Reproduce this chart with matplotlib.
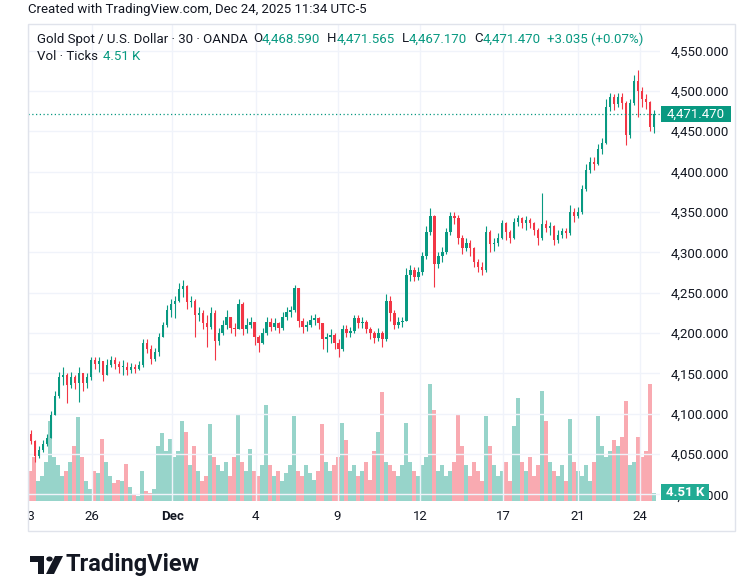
import numpy as np
import matplotlib
matplotlib.use('Agg')
import matplotlib.pyplot as plt
from matplotlib.patches import Rectangle, Polygon, Circle
from matplotlib.ticker import FuncFormatter
from matplotlib.transforms import Bbox

# 157 bars (left to right), prices in USD
closes = [4066, 4048, 4055, 4062, 4070, 4098, 4122, 4145, 4148, 4135,
          4145, 4138, 4150, 4138, 4145, 4166, 4162, 4165, 4148, 4160,
          4166, 4162, 4158, 4158, 4154, 4158, 4156, 4160, 4188, 4180,
          4168, 4176, 4195, 4210, 4228, 4236, 4240, 4255, 4258, 4238,
          4240, 4222, 4225, 4212, 4208, 4225, 4190, 4200, 4210, 4220,
          4206, 4205, 4236, 4205, 4210, 4214, 4195, 4188, 4200, 4214,
          4208, 4212, 4206, 4220, 4226, 4228, 4256, 4215, 4208, 4210,
          4216, 4218, 4212, 4192, 4195, 4198, 4188, 4180, 4205, 4200,
          4202, 4218, 4212, 4214, 4205, 4200, 4194, 4200, 4192, 4240,
          4225, 4210, 4214, 4215, 4272, 4278, 4270, 4276, 4295, 4325,
          4345, 4285, 4295, 4300, 4325, 4345, 4342, 4318, 4305, 4312,
          4305, 4288, 4282, 4278, 4325, 4310, 4312, 4318, 4336, 4325,
          4318, 4338, 4342, 4336, 4340, 4336, 4328, 4318, 4335, 4330,
          4332, 4315, 4322, 4326, 4324, 4350, 4345, 4350, 4378, 4402,
          4412, 4410, 4428, 4436, 4480, 4492, 4484, 4492, 4485, 4445,
          4485, 4512, 4500, 4490, 4486, 4455, 4471.47]
highs = [4080, 4068, 4060, 4068, 4075, 4103, 4128, 4152, 4158, 4150,
         4152, 4148, 4158, 4150, 4150, 4170, 4170, 4170, 4165, 4168,
         4172, 4170, 4165, 4166, 4164, 4163, 4162, 4165, 4192, 4192,
         4185, 4182, 4200, 4214, 4235, 4242, 4246, 4262, 4266, 4260,
         4246, 4242, 4232, 4228, 4222, 4232, 4228, 4206, 4216, 4228,
         4218, 4212, 4242, 4238, 4218, 4220, 4214, 4198, 4206, 4220,
         4218, 4218, 4214, 4226, 4232, 4234, 4260, 4256, 4218, 4215,
         4222, 4224, 4220, 4212, 4200, 4205, 4200, 4192, 4210, 4210,
         4208, 4222, 4222, 4220, 4216, 4208, 4203, 4206, 4202, 4248,
         4246, 4228, 4220, 4220, 4280, 4284, 4282, 4282, 4300, 4332,
         4355, 4346, 4300, 4306, 4330, 4350, 4350, 4346, 4322, 4318,
         4315, 4306, 4292, 4288, 4332, 4328, 4318, 4324, 4340, 4338,
         4328, 4343, 4346, 4344, 4345, 4342, 4338, 4330, 4374, 4340,
         4338, 4334, 4328, 4330, 4330, 4358, 4355, 4356, 4384, 4410,
         4418, 4418, 4434, 4442, 4490, 4498, 4496, 4497, 4498, 4488,
         4490, 4520, 4526, 4505, 4496, 4488, 4476]
lows = [4062, 4040, 4045, 4052, 4060, 4070, 4098, 4120, 4135, 4113,
        4132, 4130, 4114, 4128, 4132, 4142, 4155, 4152, 4140, 4148,
        4158, 4155, 4150, 4148, 4148, 4150, 4150, 4154, 4158, 4175,
        4162, 4165, 4172, 4195, 4208, 4220, 4218, 4238, 4245, 4230,
        4232, 4195, 4215, 4205, 4183, 4205, 4167, 4185, 4198, 4205,
        4200, 4196, 4205, 4198, 4200, 4206, 4185, 4177, 4186, 4198,
        4202, 4204, 4200, 4204, 4216, 4220, 4226, 4208, 4200, 4202,
        4208, 4210, 4205, 4180, 4176, 4188, 4180, 4170, 4178, 4195,
        4195, 4200, 4206, 4206, 4200, 4192, 4188, 4190, 4183, 4190,
        4215, 4205, 4206, 4208, 4215, 4265, 4265, 4266, 4272, 4292,
        4322, 4257, 4280, 4288, 4298, 4322, 4335, 4310, 4298, 4302,
        4295, 4282, 4276, 4272, 4276, 4300, 4302, 4308, 4316, 4315,
        4312, 4316, 4332, 4330, 4328, 4330, 4322, 4309, 4315, 4325,
        4322, 4309, 4312, 4318, 4318, 4322, 4338, 4342, 4348, 4376,
        4398, 4402, 4408, 4422, 4434, 4475, 4476, 4480, 4478, 4433,
        4442, 4482, 4468, 4480, 4478, 4450, 4448]
# tick volume, thousands
volumes = [17, 25, 11, 14, 22, 45, 25, 20, 14, 17, 22, 31, 47, 25, 11, 7, 17, 16, 35, 22,
           14, 10, 12, 11, 21, 8, 3.4, 2.8, 17, 5.6, 4.5, 7, 31, 38, 28, 35, 25, 28, 45, 39,
           20, 31, 17, 11, 14, 43, 25, 20, 17, 22, 14, 25, 49, 22, 17, 29, 17, 14, 20, 54,
           20, 14, 17, 11, 16, 20, 48, 17, 14, 20, 16, 12, 17, 43, 22, 17, 20, 25, 44, 34,
           17, 20, 14, 17, 22, 12, 28, 39, 61, 22, 20, 17, 14, 20, 44, 22, 17, 14, 20, 25,
           66, 51, 17, 20, 14, 17, 22, 49, 31, 20, 14, 22, 17, 11, 48, 31, 20, 14, 17, 22,
           11, 42, 58, 22, 17, 25, 14, 20, 62, 45, 22, 17, 14, 20, 11, 46, 22, 17, 14, 20,
           11, 22, 48, 31, 25, 28, 34, 31, 36, 56, 20, 22, 36, 25, 28, 66, 4.51]
first_open = 4075
date_labels = ['23', '26', 'Dec', '4', '9', '12', '17', '21', '24']
date_pos = [-0.75, 15.25, 35.4, 56.25, 76.75, 97.5, 118.25, 137, 152.5]

UP = '#089981'
DOWN = '#f23645'
TXT = '#131722'
GRID = '#f0f3fa'

W, H = 749, 585
plt.rcParams['font.family'] = ['Roboto', 'DejaVu Sans']
fig = plt.figure(figsize=(W / 100, H / 100), dpi=100)


def fx(px):
    return px / W


def fy(py):
    return 1 - py / H


L, R, T, B = 28, 660, 24, 501
rect = [fx(L), fy(B), fx(R) - fx(L), fy(T) - fy(B)]

closes = np.array(closes, dtype=float)
opens = np.r_[first_open, closes[:-1]]
highs = np.maximum(np.array(highs, float), np.maximum(opens, closes))
lows = np.minimum(np.array(lows, float), np.minimum(opens, closes))
x = np.arange(len(closes))
up = closes >= opens
colors = np.where(up, UP, DOWN)

# volume pane behind the price candles
vax = fig.add_axes(rect)
vax.bar(x, volumes, width=0.9, color=colors, alpha=0.42, lw=0)
vax.set_ylim(0, 268)
vax.set_xlim(-0.5, len(x) + 0.5)
vax.axis('off')

ax = fig.add_axes(rect)
ax.patch.set_alpha(0)
ax.vlines(x, lows, highs, colors=colors, lw=0.8)
ax.bar(x, np.maximum(np.abs(closes - opens), 0.8), bottom=np.minimum(opens, closes),
       width=0.6, color=colors, lw=0)
ax.set_xlim(-0.5, len(x) + 0.5)
ax.set_ylim(4300 - (B - 252.3) / 0.807, 4300 + (252.3 - T) / 0.807)
ax.set_yticks(np.arange(4000, 4551, 50))
ax.yaxis.set_major_formatter(FuncFormatter(lambda v, p: f'{v:,.3f}'))
ax.yaxis.tick_right()
ax.tick_params(axis='y', length=0, pad=8, labelsize=9.5, labelcolor=TXT)
ax.set_xticks(date_pos)
ax.tick_params(axis='x', length=0, labelbottom=False)
ax.grid(True, color=GRID, lw=1)
ax.set_axisbelow(True)
for s in ax.spines.values():
    s.set_visible(False)
ax.axhline(closes[-1], color=UP, ls=(0, (1, 2)), lw=0.9)

clip = Bbox.from_extents(L, 0, W, H)
for p, lab in zip(date_pos, date_labels):
    t = ax.text(p, (B - 516) / (B - T), lab, transform=ax.get_xaxis_transform(),
                ha='center', va='center', fontsize=9.5, color=TXT,
                fontweight='bold' if lab == 'Dec' else 'normal')
    t.set_clip_on(True)
    t.set_clip_box(clip)

# outer frame
fig.patches.append(Rectangle((fx(L), fy(531)), fx(735) - fx(L), fy(T) - fy(531),
                             transform=fig.transFigure, fill=False, ec='#e0e3eb', lw=1))

# last price / last volume badges
fig.patches.append(Rectangle((fx(661), fy(122)), fx(70), 16 / H, transform=fig.transFigure,
                             fc=UP, ec='none', zorder=3))
fig.text(fx(696), fy(114), f'{closes[-1]:,.3f}', color='white', fontsize=9.5,
         ha='center', va='center', zorder=4)
fig.patches.append(Rectangle((fx(661), fy(500)), fx(48), 16 / H, transform=fig.transFigure,
                             fc='#22ab94', ec='none', zorder=3))
fig.text(fx(685), fy(492), '4.51 K', color='white', fontsize=9.5, fontweight='bold',
         ha='center', va='center', zorder=4)

# header
fig.text(fx(28), fy(10), 'Created with TradingView.com, Dec 24, 2025 11:34 UTC-5',
         fontsize=9.5, color=TXT, va='center')
renderer = fig.canvas.get_renderer()


def row(pieces, xpx, ypx):
    for s, c, gap in pieces:
        t = fig.text(fx(xpx), fy(ypx), s, color=c, fontsize=9.5, va='center')
        bb = t.get_window_extent(renderer)
        xpx = bb.x1 + gap


row([('Gold Spot / U.S. Dollar · 30 · OANDA', TXT, 5),
     ('O', TXT, 0), ('4,468.590', UP, 7),
     ('H', TXT, 0), ('4,471.565', UP, 7),
     ('L', TXT, 0), ('4,467.170', UP, 7),
     ('C', TXT, 0), ('4,471.470', UP, 6),
     ('+3.035 (+0.07%)', UP, 0)], 37, 39)
row([('Vol · Ticks', TXT, 5), ('4.51 K', UP, 0)], 37, 57)

# TradingView logo
k = '#131722'
fig.patches.append(Polygon([(fx(30), fy(556)), (fx(44), fy(556)), (fx(44), fy(574)),
                            (fx(38), fy(574)), (fx(38), fy(562)), (fx(30), fy(562))],
                           closed=True, transform=fig.transFigure, fc=k, ec='none'))
fig.patches.append(Circle((fx(49.5), fy(559)), 3.2 / W, transform=fig.transFigure,
                          fc=k, ec='none'))
fig.patches.append(Polygon([(fx(55), fy(556)), (fx(63), fy(556)), (fx(54), fy(574)),
                            (fx(46), fy(574))],
                           closed=True, transform=fig.transFigure, fc=k, ec='none'))
fig.text(fx(66), fy(565), 'TradingView', fontsize=17, fontweight='bold', color=k,
         va='center')

fig.savefig('out.png', dpi=100)
